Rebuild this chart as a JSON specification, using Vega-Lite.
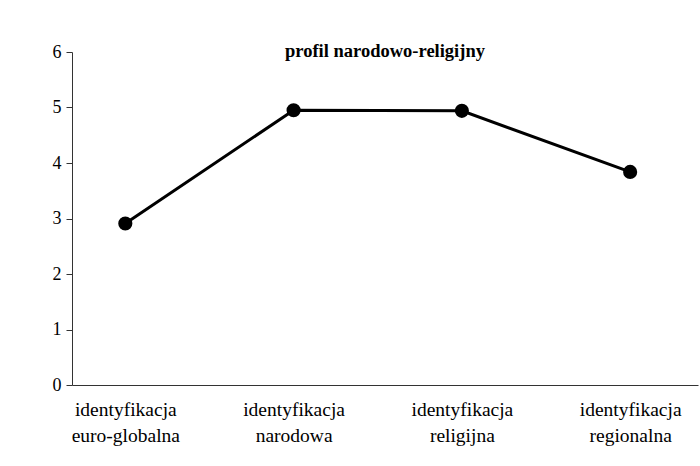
{
  "$schema": "https://vega.github.io/schema/vega-lite/v6.json",
  "autosize": {"type": "none"},
  "width": 626,
  "height": 333,
  "padding": {"left": 72, "top": 52, "right": 2, "bottom": 81},
  "background": "white",
  "config": {
    "view": {"stroke": null},
    "font": "Liberation Serif"
  },
  "title": {
    "text": "profil narodowo-religijny",
    "font": "Liberation Serif",
    "fontSize": 18.5,
    "fontWeight": "bold",
    "anchor": "middle",
    "baseline": "alphabetic",
    "offset": 0,
    "dy": 32,
    "color": "black"
  },
  "data": {
    "values": [
      {"kategoria": "identyfikacja euro-globalna", "wartosc": 2.91},
      {"kategoria": "identyfikacja narodowa", "wartosc": 4.95},
      {"kategoria": "identyfikacja religijna", "wartosc": 4.94},
      {"kategoria": "identyfikacja regionalna", "wartosc": 3.84}
    ]
  },
  "encoding": {
    "x": {
      "field": "kategoria",
      "type": "nominal",
      "sort": null,
      "scale": {"type": "point", "padding": 0.36, "align": 0.44},
      "axis": {
        "title": null,
        "labelAngle": 0,
        "ticks": false,
        "labelExpr": "split(datum.label, ' ')",
        "labelFont": "Liberation Serif",
        "labelFontSize": 19.5,
        "labelColor": "black",
        "labelPadding": 30,
        "labelLineHeight": 26,
        "labelBaseline": "alphabetic",
        "domainColor": "#333",
        "domainWidth": 1
      }
    },
    "y": {
      "field": "wartosc",
      "type": "quantitative",
      "scale": {"domain": [0, 6], "nice": false},
      "axis": {
        "title": null,
        "values": [0, 1, 2, 3, 4, 5, 6],
        "grid": false,
        "tickSize": 6,
        "tickColor": "#333",
        "domainColor": "#333",
        "labelFont": "Liberation Serif",
        "labelFontSize": 18,
        "labelColor": "black",
        "labelPadding": 5
      }
    }
  },
  "layer": [
    {"mark": {"type": "line", "color": "black", "strokeWidth": 3}},
    {"mark": {"type": "point", "filled": true, "color": "black", "size": 200, "opacity": 1}}
  ]
}
